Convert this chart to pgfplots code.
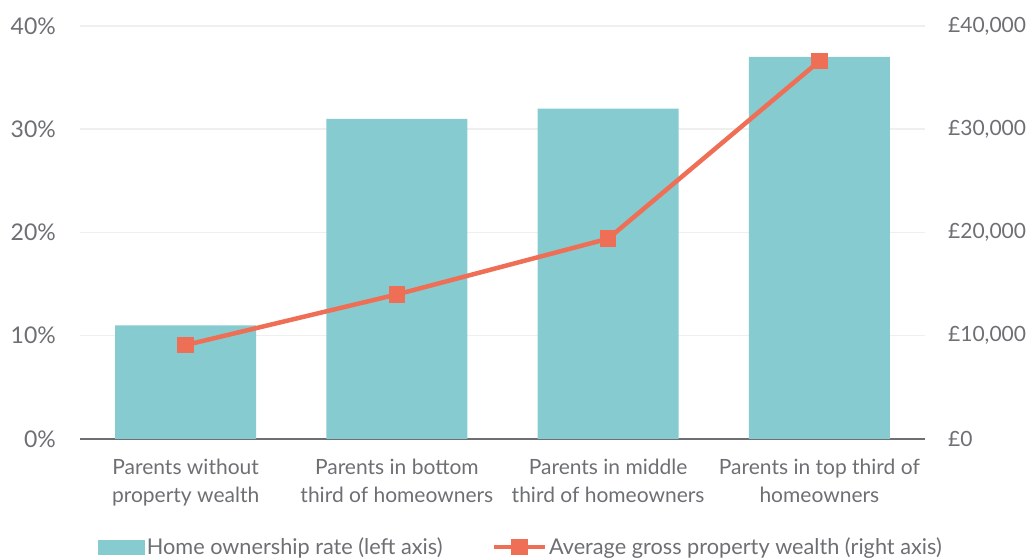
\documentclass[border=0pt]{standalone}
\usepackage{fontspec}
\setmainfont{Lato}
\usepackage{pgfplots}
\pgfplotsset{compat=1.18}
\definecolor{barc}{HTML}{86CBCF}
\definecolor{linec}{HTML}{EE6F55}
\definecolor{txt}{HTML}{6D6F73}
\definecolor{gridc}{HTML}{EFEFEF}

\begin{document}
\begin{tikzpicture}
\begin{axis}[
  scale only axis,
  width=845pt, height=413pt,
  xmin=-0.5, xmax=3.5,
  ymin=0, ymax=40,
  axis x line*=bottom, axis y line*=left,
  x axis line style={-, draw=txt, line width=2pt},
  y axis line style={draw=none},
  xtick={0,1,2,3},
  xticklabels={Parents without\\property wealth, Parents in bottom\\third of homeowners, Parents in middle\\third of homeowners, Parents in top third of\\homeowners},
  xticklabel style={align=center, font=\fontsize{21}{28}\selectfont, text=txt, inner sep=0pt, anchor=north, yshift=-20pt},
  ytick={0,10,20,30,40},
  yticklabels={0\%,10\%,20\%,30\%,40\%},
  yticklabel style={font=\fontsize{23}{26}\selectfont, text=txt, inner sep=0pt, anchor=east, xshift=-24pt},
  major tick length=0pt,
  ymajorgrids,
  major grid style={gridc, line width=1.5pt},
]
\addplot[ybar, bar width=141pt, fill=barc, draw=none] coordinates {(0,11) (1,31) (2,32) (3,37)};
\coordinate (o) at (rel axis cs:0,0);
\end{axis}
\begin{axis}[
  scale only axis,
  width=845pt, height=413pt,
  xmin=-0.5, xmax=3.5,
  ymin=0, ymax=40000,
  axis x line=none,
  axis y line*=right,
  y axis line style={draw=none},
  scaled y ticks=false,
  ytick={0,10000,20000,30000,40000},
  yticklabels={£0,{£10,000},{£20,000},{£30,000},{£40,000}},
  yticklabel style={font=\fontsize{21}{26}\selectfont, text=txt, inner sep=0pt, anchor=west, xshift=23pt},
  major tick length=0pt,
  legend columns=2,
  legend style={draw=none, fill=none, at={(0.522,-0.2615)}, anchor=center,
    font=\fontsize{21.7}{25}\selectfont, text=txt,
    /tikz/every even column/.append style={column sep=47pt},
    nodes={inner sep=2pt}},
]
\addlegendimage{legend image code/.code={\fill[barc] (0pt,-7pt) rectangle (46pt,7pt);}}
\addlegendentry{Home ownership rate (left axis)}
\addplot[linec, line width=4.5pt, mark=square*, mark size=6pt, mark options={solid},
  legend image code/.code={\draw[linec, line width=4.5pt] (0pt,0pt) -- (51pt,0pt); \fill[linec] (19.5pt,-6pt) rectangle (31.5pt,6pt);}]
  coordinates {(0,9100) (1,14000) (2,19400) (3,36600)};
\addlegendentry{Average gross property wealth (right axis)}
\end{axis}
\pgfresetboundingbox
\path (o) ++(-80pt,-120pt) rectangle ++(1028pt,559pt);
\end{tikzpicture}
\end{document}
